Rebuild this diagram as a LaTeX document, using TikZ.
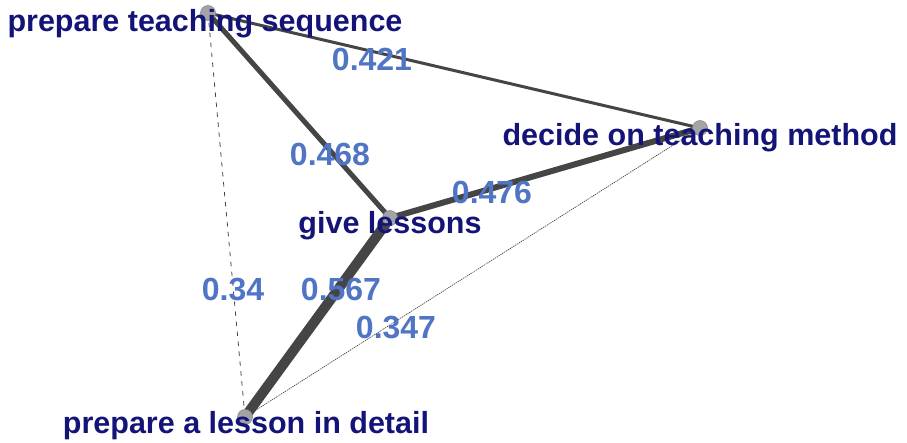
\documentclass[tikz,border=0pt]{standalone}
\usepackage{fontspec}
\setmainfont{Liberation Sans}
\usetikzlibrary{backgrounds}
\definecolor{VertexClr}{rgb}{0.64,0.64,0.66}
\definecolor{EdgeClr}{rgb}{0.27,0.27,0.27}
\definecolor{NameClr}{rgb}{0.08,0.08,0.47}
\definecolor{WeightClr}{rgb}{0.31,0.46,0.77}

\begin{document}
\begin{tikzpicture}[x=1pt,y=-1pt,
  vertex/.style={circle,fill=VertexClr,draw=VertexClr!85!black,line width=.6pt,minimum size=15pt,inner sep=0pt},
  vname/.style={anchor=base,text=NameClr,inner sep=0pt,font=\bfseries\fontsize{30.5}{33}\selectfont},
  weight/.style={anchor=base,text=WeightClr,inner sep=0pt,font=\bfseries\fontsize{32}{34}\selectfont},
  link/.style={draw=EdgeClr,line cap=round}]
\useasboundingbox (0,0) rectangle (907,442);

\node[vertex] (pts) at (208,13) {};
\node[vertex] (dtm) at (700,128) {};
\node[vertex] (gl) at (390,218) {};
\node[vertex] (pld) at (245,417) {};

\begin{scope}[on background layer]
\draw[link,line width=3pt] (pts.center) -- (dtm.center);
\draw[link,line width=5pt] (pts.center) -- (gl.center);
\draw[link,line width=6pt] (gl.center) -- (dtm.center);
\draw[link,line width=10pt,line cap=butt] (gl.center) -- (pld.center);
\draw[link,line width=.8pt,dash pattern=on 4pt off 6pt] (pts.center) -- (pld.center);
\draw[link,line width=.7pt,dash pattern=on 1pt off 1.2pt] (dtm.center) -- (pld.center);
\end{scope}

\node[vname] (ptsname) at (205,31) {prepare teaching sequence};
\node[vname] (dtmname) at (700,145) {decide on teaching method};
\node[vname] (glname) at (390,233) {give lessons};
\node[vname] (pldname) at (246,433) {prepare a lesson in detail};

\node[weight] (w1) at (372,70) {0.421};
\node[weight] (w2) at (330,165) {0.468};
\node[weight] (w3) at (492,203) {0.476};
\node[weight] (w4) at (233,300) {0.34};
\node[weight] (w5) at (341,300) {0.567};
\node[weight] (w6) at (396,338) {0.347};
\end{tikzpicture}
\end{document}
